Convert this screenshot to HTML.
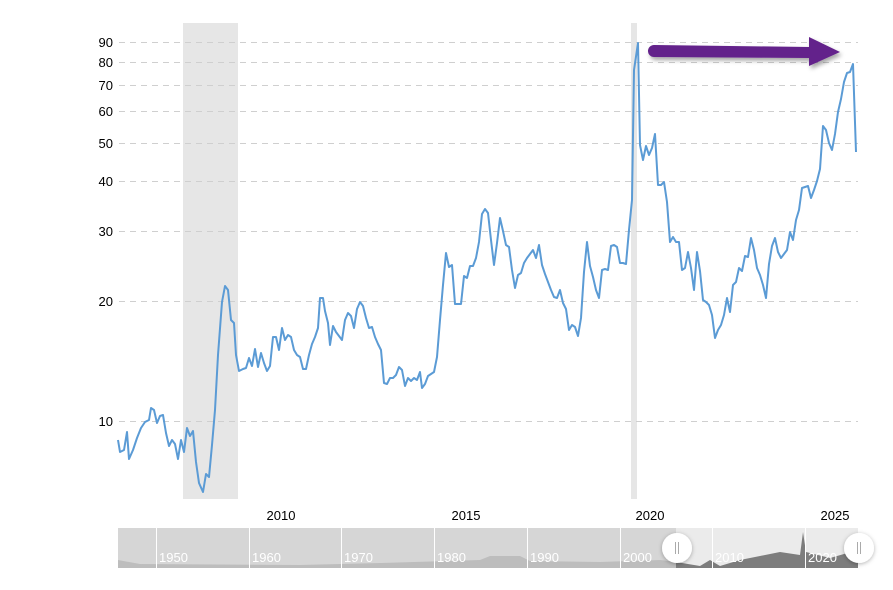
<!DOCTYPE html>
<html><head><meta charset="utf-8"><style>
html,body{margin:0;padding:0;background:#fff;}
svg{display:block;font-family:"Liberation Sans",sans-serif;}
</style></head><body>
<svg width="893" height="590" viewBox="0 0 893 590" xmlns="http://www.w3.org/2000/svg">
<defs>
<filter id="sh" x="-20%" y="-50%" width="140%" height="200%"><feDropShadow dx="2" dy="3" stdDeviation="2" flood-color="#000" flood-opacity="0.35"/></filter>
<filter id="sh2" x="-50%" y="-50%" width="200%" height="200%"><feDropShadow dx="0" dy="1" stdDeviation="2" flood-color="#000" flood-opacity="0.3"/></filter>
</defs>
<rect x="183" y="23" width="55" height="476" fill="#e6e6e6"/>
<rect x="631" y="23" width="6" height="476" fill="#e6e6e6"/>
<g stroke="#cfcfcf" stroke-dasharray="6,5" stroke-width="1">
<line x1="119" y1="42.5" x2="858" y2="42.5"/>
<line x1="119" y1="62.5" x2="858" y2="62.5"/>
<line x1="119" y1="85.5" x2="858" y2="85.5"/>
<line x1="119" y1="111.5" x2="858" y2="111.5"/>
<line x1="119" y1="143.5" x2="858" y2="143.5"/>
<line x1="119" y1="181.5" x2="858" y2="181.5"/>
<line x1="119" y1="231.5" x2="858" y2="231.5"/>
<line x1="119" y1="301.5" x2="858" y2="301.5"/>
<line x1="119" y1="421.5" x2="858" y2="421.5"/>
</g>
<g font-size="13" fill="#000" text-anchor="end">
<text x="113" y="47">90</text><text x="113" y="67">80</text><text x="113" y="90">70</text>
<text x="113" y="116">60</text><text x="113" y="148">50</text><text x="113" y="186">40</text>
<text x="113" y="236">30</text><text x="113" y="306">20</text><text x="113" y="426">10</text>
</g>
<g font-size="13" fill="#000" text-anchor="middle">
<text x="281" y="520">2010</text><text x="466" y="520">2015</text><text x="650" y="520">2020</text><text x="835" y="520">2025</text>
</g>
<polyline fill="none" stroke="#5b9bd5" stroke-width="2" stroke-linejoin="round" points="118,440 120,452 124,450 127,432 129,459 133,450 137,438 141,428 145,422 149,420 151,408 154,410 157,423 160,416 163,415 166,433 169,446 172,440 175,444 178,459 181,440 184,452 187,428 190,436 193,431 196,462 199,483 203,492 206,474 209,477 212,445 215,410 218,355 222,302 225,286 228,290 231,320 234,323 236,355 239,371 243,369 246,368 249,358 252,366 255,349 258,367 261,353 264,363 267,371 270,366 273,337 276,337 279,350 282,328 285,340 288,335 291,337 294,350 297,355 300,357 303,369 306,369 309,355 312,344 315,337 318,328 320,298 323,298 325,311 328,323 330,345 333,326 336,332 339,336 342,340 345,320 348,313 351,316 354,328 357,309 360,302 363,306 366,318 369,328 372,327 375,337 378,344 381,350 384,383 387,384 390,378 393,378 396,375 399,367 402,370 405,386 408,378 411,381 414,378 417,380 420,372 422,388 425,384 428,376 431,374 434,372 437,357 440,320 443,285 446,253 449,267 452,265 455,304 458,304 461,304 464,276 467,278 470,266 473,266 476,258 479,242 482,214 485,209 488,213 491,240 494,265 497,243 500,218 503,231 506,245 509,247 512,270 515,288 518,275 521,273 524,263 527,258 530,254 533,250 536,258 539,245 542,265 545,274 548,282 551,290 554,297 557,298 560,290 563,303 566,309 569,330 572,325 575,327 578,336 581,318 584,272 587,242 590,266 593,277 596,290 599,298 602,270 605,269 608,270 611,246 614,245 617,247 620,263 623,263 626,264 629,230 632,200 634,70 638,43 640,145 643,160 646,146 649,155 652,148 655,134 658,185 661,185 664,182 667,202 670,242 673,237 676,242 679,242 682,270 685,268 688,252 691,268 694,290 697,252 700,271 703,300 706,302 709,305 712,315 715,338 718,330 721,325 724,315 727,298 730,312 733,285 736,282 739,268 742,271 745,256 748,257 751,238 754,250 757,268 760,275 763,285 766,298 769,264 772,246 775,238 778,252 781,258 784,254 787,250 790,232 793,240 796,220 799,210 802,188 805,187 808,186 811,198 814,190 817,181 820,169 823,126 826,130 829,143 832,150 835,134 838,112 841,99 844,82 847,73 850,72 853,64 856,152"/>
<g filter="url(#sh)" fill="#63218b">
<path d="M654,45 L810,47 L810,58 L654,57 A6,6 0 0 1 654,45 Z"/>
<polygon points="809,37 840,52 809,66"/>
</g>
<!-- navigator -->
<rect x="118" y="528" width="740" height="40" fill="#d6d6d6"/>
<rect x="676" y="528" width="182" height="40" fill="#ebebeb"/>
<path d="M118,560 L140,564 L300,565 L380,563 L480,560 L490,556 L520,556 L530,561 L600,562 L660,560 L676,562 L676,568 L118,568 Z" fill="#bdbdbd"/>
<path d="M676,562 L700,566 L710,560 L720,566 L740,560 L760,556 L780,552 L800,555 L803,532 L806,552 L830,558 L858,550 L858,568 L676,568 Z" fill="#7d7d7d"/>
<g stroke="#fff" stroke-width="1">
<line x1="156.5" y1="528" x2="156.5" y2="568"/><line x1="249.5" y1="528" x2="249.5" y2="568"/>
<line x1="341.5" y1="528" x2="341.5" y2="568"/><line x1="434.5" y1="528" x2="434.5" y2="568"/>
<line x1="527.5" y1="528" x2="527.5" y2="568"/><line x1="620.5" y1="528" x2="620.5" y2="568"/>
<line x1="712.5" y1="528" x2="712.5" y2="568"/><line x1="805.5" y1="528" x2="805.5" y2="568"/>
</g>
<g font-size="13" fill="#fff">
<text x="159" y="562">1950</text><text x="252" y="562">1960</text><text x="344" y="562">1970</text>
<text x="437" y="562">1980</text><text x="530" y="562">1990</text><text x="623" y="562">2000</text>
<text x="715" y="562">2010</text><text x="808" y="562">2020</text>
</g>
<g filter="url(#sh2)">
<circle cx="677" cy="548" r="15" fill="#fff"/>
<circle cx="859" cy="548" r="15" fill="#fff"/>
</g>
<g stroke="#aaa" stroke-width="1">
<line x1="675.5" y1="542" x2="675.5" y2="554"/><line x1="678.5" y1="542" x2="678.5" y2="554"/>
<line x1="857.5" y1="542" x2="857.5" y2="554"/><line x1="860.5" y1="542" x2="860.5" y2="554"/>
</g>
</svg>
</body></html>
